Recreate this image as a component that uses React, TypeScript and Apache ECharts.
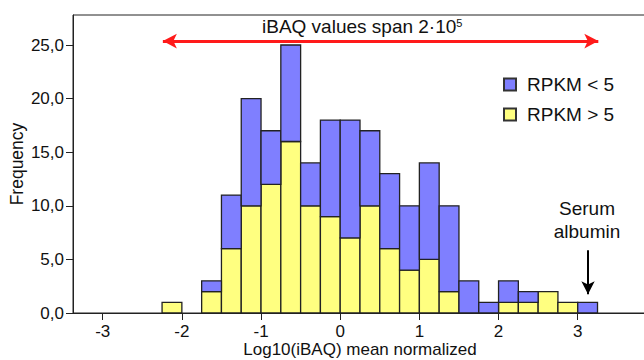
import React, { useEffect, useRef } from "react";
import * as echarts from "echarts";

const FONT = "'Liberation Sans', Arial, Helvetica, sans-serif";

// Histogram bins (left edges, width 0.25 in log10 units)
const binStarts = [-2.25, -2.0, -1.75, -1.5, -1.25, -1.0, -0.75, -0.5, -0.25, 0, 0.25, 0.5, 0.75, 1.0, 1.25, 1.5, 1.75, 2.0, 2.25, 2.5, 2.75, 3.0];
const binWidth = 0.25;
// Counts with RPKM > 5 (yellow, bottom of stack)
const rpkmHigh = [1, 0, 2, 6, 10, 12, 16, 10, 9, 7, 10, 6, 4, 5, 2, 0, 0, 1, 1, 2, 1, 0];
// Counts with RPKM < 5 (blue, stacked on top)
const rpkmLow = [0, 0, 1, 5, 10, 5, 9, 4, 9, 11, 7, 7, 6, 9, 8, 3, 1, 2, 1, 0, 0, 1];

const xTickValues = [-3, -2, -1, 0, 1, 2, 3];
const yTickValues = [0, 5, 10, 15, 20, 25];
const xMin = -3.375;
const xMax = 3.875;
const yMax = 27.8;

// Annotations (data coordinates)
const spanArrow = { from: [-2.24, 25.37], to: [3.26, 25.37] };
const albuminArrow = { from: [3.13, 5.85], to: [3.13, 1.75] };

const seriesLowName = "RPKM < 5";
const seriesHighName = "RPKM > 5";

export default function App() {
  const ref = useRef<HTMLDivElement>(null);

  useEffect(() => {
    if (!ref.current) return;
    const chart = echarts.init(ref.current, null, { renderer: "svg" });

    const highData = binStarts.map((s, i) => [s, s + binWidth, 0, rpkmHigh[i]]);
    const lowData = binStarts.map((s, i) => [s, s + binWidth, rpkmHigh[i], rpkmHigh[i] + rpkmLow[i]]);

    const makeRender = (fill: string) => (params: any, api: any) => {
      const x0 = api.value(0);
      const x1 = api.value(1);
      const y0 = api.value(2);
      const y1 = api.value(3);
      if (y1 <= y0) return null;
      const p0 = api.coord([x0, y1]);
      const p1 = api.coord([x1, y0]);
      return {
        type: "rect",
        shape: { x: p0[0], y: p0[1], width: p1[0] - p0[0], height: p1[1] - p0[1] },
        style: { fill, stroke: "#222", lineWidth: 1.3 },
      };
    };

    const option: any = {
      animation: false,
      textStyle: { fontFamily: FONT, color: "#111" },
      grid: {
        left: 73,
        top: 15,
        right: -3,
        bottom: 47,
        show: true,
        borderColor: "#222",
        borderWidth: 1,
        containLabel: false,
        outerBoundsMode: "none",
      },
      legend: {
        orient: "vertical",
        left: 498,
        top: 70,
        icon: "rect",
        itemWidth: 12,
        itemHeight: 12,
        itemGap: 11,
        data: [seriesLowName, seriesHighName],
        textStyle: { fontFamily: FONT, fontSize: 19, color: "#111", padding: [0, 0, 0, 6] },
        selectedMode: false,
      },
      xAxis: {
        type: "value",
        min: xMin,
        max: xMax,
        name: "Log10(iBAQ) mean normalized",
        nameLocation: "middle",
        nameGap: 28,
        nameMoveOverlap: false,
        nameTextStyle: { fontFamily: FONT, fontSize: 17, color: "#111" },
        axisLine: { show: true, onZero: false, lineStyle: { color: "#222", width: 1 } },
        axisTick: { show: true, length: 7, customValues: xTickValues, lineStyle: { color: "#222" } },
        axisLabel: {
          customValues: xTickValues,
          fontFamily: FONT,
          fontSize: 17,
          color: "#111",
          margin: 10,
          formatter: (v: number) => String(v),
        },
        splitLine: { show: false },
      },
      yAxis: {
        type: "value",
        min: 0,
        max: yMax,
        name: "Frequency",
        nameLocation: "middle",
        nameGap: 47,
        nameMoveOverlap: false,
        nameTextStyle: { fontFamily: FONT, fontSize: 17.5, color: "#111" },
        axisLine: { show: true, onZero: false, lineStyle: { color: "#222", width: 1 } },
        axisTick: { show: true, length: 7, customValues: yTickValues, lineStyle: { color: "#222" } },
        axisLabel: {
          customValues: yTickValues,
          fontFamily: FONT,
          fontSize: 17,
          color: "#111",
          margin: 9,
          formatter: (v: number) => v.toFixed(1).replace(".", ","),
        },
        splitLine: { show: false },
      },
      series: [
        {
          name: seriesHighName,
          type: "custom",
          renderItem: makeRender("#ffff80"),
          data: highData,
          encode: { x: [0, 1], y: [2, 3] },
          itemStyle: { color: "#ffff80", borderColor: "#333", borderWidth: 1 },
          clip: false,
          markLine: {
            silent: true,
            symbol: ["arrow", "arrow"],
            symbolSize: [11, 14],
            label: { show: false },
            lineStyle: { color: "#ff1a1a", width: 3, type: "solid" },
            data: [[{ coord: spanArrow.from }, { coord: spanArrow.to }]],
          },
        },
        {
          name: seriesLowName,
          type: "custom",
          renderItem: makeRender("#7f7fff"),
          data: lowData,
          encode: { x: [0, 1], y: [2, 3] },
          itemStyle: { color: "#7f7fff", borderColor: "#333", borderWidth: 1 },
          clip: false,
          markLine: {
            silent: true,
            symbol: ["none", "arrow"],
            symbolSize: [10, 13],
            label: { show: false },
            lineStyle: { color: "#000", width: 2, type: "solid" },
            data: [[{ coord: albuminArrow.from }, { coord: albuminArrow.to }]],
          },
        },
      ],
      graphic: [
        {
          type: "text",
          left: 262,
          top: 17,
          style: {
            text: "{a|iBAQ values span 2·10}{s|5}",
            fontFamily: FONT,
            fill: "#111",
            rich: {
              a: { fontSize: 19, fontFamily: FONT, fill: "#111", verticalAlign: "bottom" },
              s: { fontSize: 11, fontFamily: FONT, fill: "#111", verticalAlign: "top" },
            },
          },
        },
        {
          type: "text",
          x: 587,
          y: 220,
          style: {
            text: "Serum\nalbumin",
            fontFamily: FONT,
            fontSize: 19,
            lineHeight: 23,
            fill: "#111",
            align: "center",
            verticalAlign: "middle",
          },
        },
      ],
    };

    chart.setOption(option);
    return () => chart.dispose();
  }, []);

  return (
    <div
      ref={ref}
      style={{ position: "absolute", left: 0, top: 0, width: 644, height: 360 }}
    />
  );
}
